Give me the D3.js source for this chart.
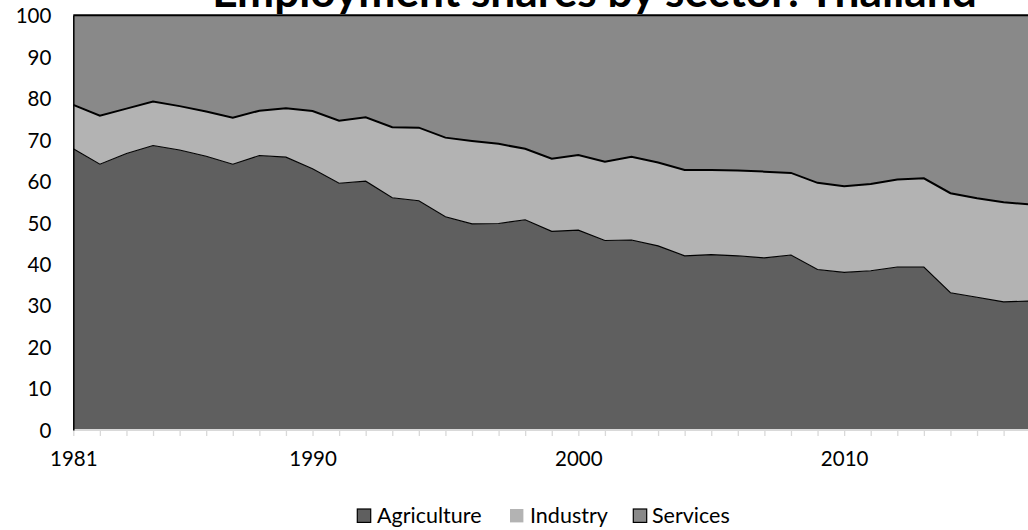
<!DOCTYPE html>
<html>
<head>
<meta charset="utf-8">
<script src="https://cdn.jsdelivr.net/npm/d3@7"></script>
<style>
  html, body { margin: 0; padding: 0; background: #fff; }
  svg { display: block; }
  text { font-family: Lato, "Open Sans", sans-serif; fill: #000; }
</style>
</head>
<body>
<svg id="chart" width="1028" height="530"></svg>
<script>
const titleText = "Employment shares by sector: Thailand";
const years = [1981,1982,1983,1984,1985,1986,1987,1988,1989,1990,1991,1992,1993,1994,1995,1996,1997,1998,1999,2000,2001,2002,2003,2004,2005,2006,2007,2008,2009,2010,2011,2012,2013,2014,2015,2016,2017];
const agriculture = [67.8,64.1,66.7,68.6,67.5,66.0,64.1,66.2,65.8,63.0,59.5,60.0,56.0,55.3,51.4,49.7,49.8,50.7,47.9,48.2,45.7,45.8,44.4,42.0,42.3,42.0,41.5,42.2,38.7,38.0,38.4,39.3,39.3,33.1,32.0,30.9,31.1];
const industry = [10.6,11.7,10.8,10.6,10.6,10.8,11.2,10.8,11.8,13.9,15.1,15.4,17.0,17.6,19.1,20.0,19.2,17.1,17.5,18.1,19.0,20.1,20.1,20.7,20.4,20.6,20.8,19.8,20.9,20.8,20.9,21.1,21.4,24.0,23.9,24.0,23.3];
const services = [21.6,24.2,22.5,20.8,21.9,23.2,24.7,23.0,22.4,23.1,25.4,24.6,27.0,27.1,29.5,30.3,31.0,32.2,34.6,33.7,35.3,34.1,35.5,37.3,37.3,37.4,37.7,38.0,40.4,41.2,40.7,39.6,39.3,42.9,44.1,45.1,45.6];
const seriesNames = ["Agriculture","Industry","Services"];
const yTicks = [0,10,20,30,40,50,60,70,80,90,100];
const xLabelYears = [1981,1990,2000,2010];

const colors = {Agriculture:"#5f5f5f", Industry:"#b3b3b3", Services:"#898989"};

const svg = d3.select("#chart");
const x = d3.scaleLinear().domain([1981, 2017]).range([73.3, 1030.2]);
const y = d3.scaleLinear().domain([0, 100]).range([430, 15.3]);

const table = years.map((yr, i) => ({year: yr, Agriculture: agriculture[i], Industry: industry[i], Services: services[i]}));
const stacked = d3.stack().keys(seriesNames)(table);

const area = d3.area().x(d => x(d.data.year)).y0(d => y(d[0])).y1(d => y(d[1]));
const topLine = d3.line().x(d => x(d.data.year)).y(d => y(d[1]));

const g = svg.append("g");
stacked.forEach(s => {
  g.append("path").attr("d", area(s)).attr("fill", colors[s.key]).attr("stroke", "none");
});
g.append("path").attr("d", topLine(stacked[0])).attr("fill","none").attr("stroke","#000").attr("stroke-width",1.1);
g.append("path").attr("d", topLine(stacked[1])).attr("fill","none").attr("stroke","#000").attr("stroke-width",2);
g.append("path").attr("d", topLine(stacked[2])).attr("fill","none").attr("stroke","#000").attr("stroke-width",2);

// x axis
const xAxis = d3.axisBottom(x).tickValues(years).tickSize(6).tickFormat("");
const xa = svg.append("g").attr("transform", "translate(0,430)").call(xAxis);
xa.select(".domain").attr("stroke", "#d9d9d9").attr("stroke-width", 2).attr("d", `M${x(1981)},0H${x(2017)}`);
xa.selectAll(".tick line").attr("stroke", "#d9d9d9").attr("stroke-width", 1.3);
xa.selectAll(".tick").filter(d => xLabelYears.includes(d)).append("text")
  .attr("y", 31).attr("text-anchor", "middle").attr("dominant-baseline", "middle")
  .style("font-size", "20.5px").style("fill", "#000").text(d => d);

// y axis
const yAxis = d3.axisLeft(y).tickValues(yTicks).tickSize(0).tickPadding(22);
const ya = svg.append("g").attr("transform", `translate(${x(1981)},0)`).call(yAxis);
ya.select(".domain").attr("stroke", "#000").attr("stroke-width", 1.5);
ya.selectAll(".tick text").style("font-size", "20.5px").style("font-family", "Lato, sans-serif").attr("fill", "#000").attr("dy", "0.36em");

// title (cut off at the top edge, as in the reference)
const title = svg.append("text").attr("x", 594.5).attr("y", 7).attr("text-anchor", "middle")
  .style("font-size", "44px").style("font-weight", "bold").text(titleText);
const tw = title.node().getComputedTextLength();
title.style("font-size", (44 * 765 / tw) + "px");

// legend
const legendItems = [
  {name: "Agriculture", sx: 357.3, tx: 377},
  {name: "Industry", sx: 510, tx: 530},
  {name: "Services", sx: 633.3, tx: 652}
];
const lg = svg.append("g");
legendItems.forEach(it => {
  lg.append("rect").attr("x", it.sx).attr("y", 509).attr("width", 13.4).attr("height", 13.4)
    .attr("fill", colors[it.name])
    .attr("stroke", it.name === "Industry" ? "none" : "#000").attr("stroke-width", 1.2);
  lg.append("text").attr("x", it.tx).attr("y", 523.3).style("font-size", "21.5px").text(it.name);
});
</script>
</body>
</html>
